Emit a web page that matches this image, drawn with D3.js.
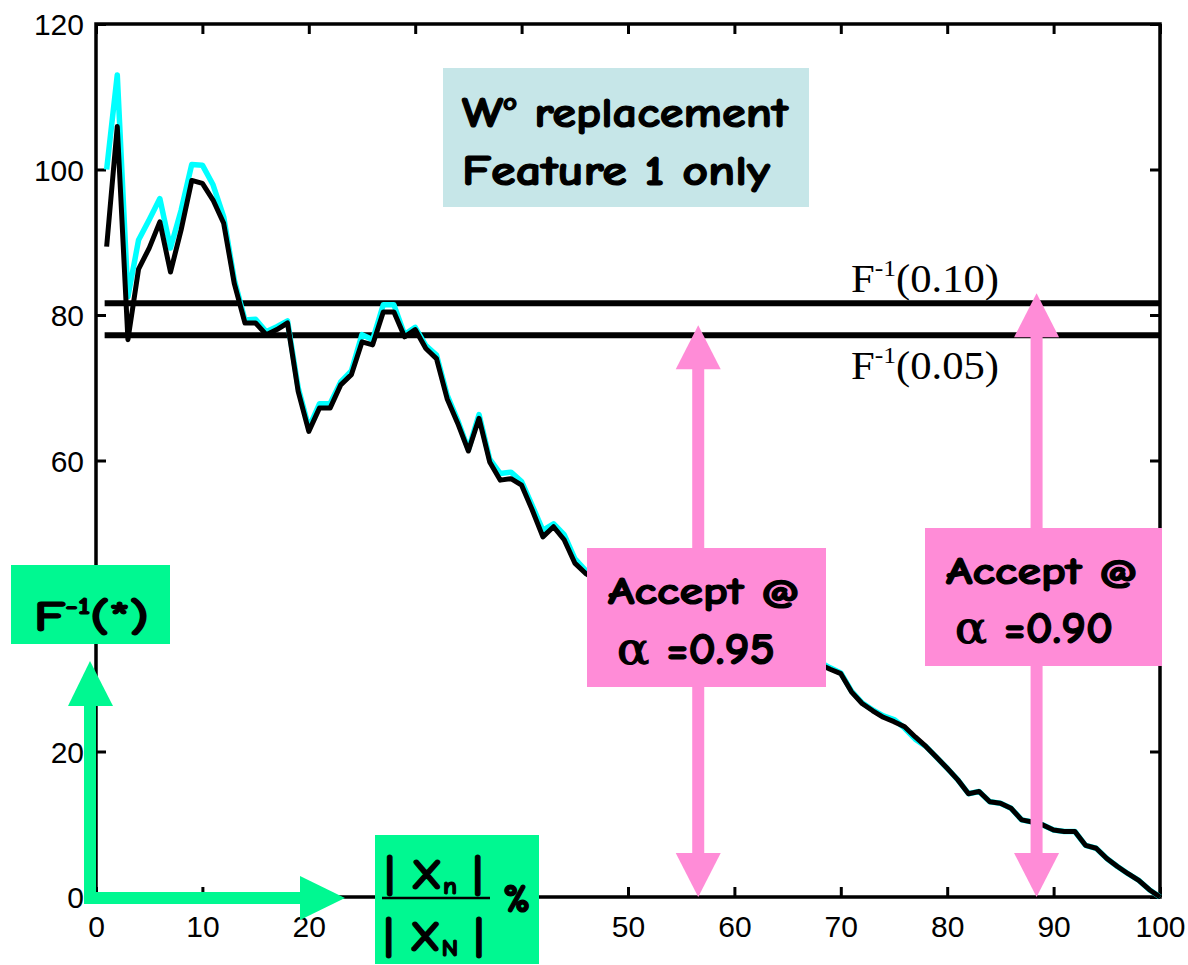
<!DOCTYPE html>
<html>
<head>
<meta charset="utf-8">
<script src="https://cdn.jsdelivr.net/npm/d3@7"></script>
<style>
  body { margin: 0; background: #fff; }
  .tick text { font-family: "Liberation Sans", Arial, Helvetica, sans-serif; font-size: 30px; fill: #000; }
  .comic { font-family: "Comic Sans MS", "Comic Neue", "DejaVu Sans", sans-serif; font-weight: bold; stroke: #000; stroke-width: 1.2px; }
  .serif { font-family: "Liberation Serif", "Times New Roman", serif; }
</style>
</head>
<body>
<figure id="chart" style="margin:0"></figure>
<script>
// percentage of the sample kept, |Xn| / |XN| %
const pct = [1,2,3,4,5,6,7,8,9,10,11,12,13,14,15,16,17,18,19,20,
  21,22,23,24,25,26,27,28,29,30,31,32,33,34,35,36,37,38,39,40,
  41,42,43,44,45,46,47,48,49,50,51,52,53,54,55,56,57,58,59,60,
  61,62,63,64,65,66,67,68,69,70,71,72,73,74,75,76,77,78,79,80,
  81,82,83,84,85,86,87,88,89,90,91,92,93,94,95,96,97,98,99,100];

// cyan series (drawn underneath)
const cyanVals = [100.0,113.0,82.5,90.3,93.1,96.0,89.2,94.4,100.7,100.6,
  97.9,93.5,84.8,79.3,79.4,77.7,78.4,79.2,70.0,64.5,
  67.8,67.8,70.8,72.3,77.3,76.6,81.4,81.4,77.3,78.3,
  75.8,74.5,69.0,65.5,61.5,66.3,60.2,58.2,58.4,57.1,
  53.8,50.4,51.3,49.8,46.5,44.9,44.0,43.4,42.5,41.9,
  41.2,40.9,40.1,39.4,39.0,38.4,37.9,37.5,37.0,36.4,
  35.9,35.5,35.0,34.4,34.1,33.6,33.0,32.3,31.5,30.8,
  28.3,26.7,25.7,24.9,24.4,23.2,21.7,20.7,19.2,17.7,
  16.1,14.2,14.5,13.1,12.9,12.2,10.6,10.3,9.9,9.2,
  9.0,9.0,7.1,6.7,5.3,4.2,3.2,2.3,1.0,0.0];

// black series
const blackVals = [89.4,105.9,76.6,86.3,89.2,92.8,85.9,91.7,98.5,98.1,
  95.8,92.6,84.3,78.9,78.9,77.3,78.0,78.9,69.5,64.0,
  67.2,67.2,70.4,71.8,76.3,75.9,80.4,80.4,77.0,78.0,
  75.4,74.0,68.5,65.1,61.3,65.8,59.8,57.3,57.5,56.6,
  53.2,49.5,50.9,49.1,45.9,44.5,43.6,43.0,42.1,41.5,
  40.8,40.5,39.7,39.0,38.6,38.0,37.5,37.1,36.6,36.0,
  35.5,35.1,34.6,34.0,33.7,33.2,32.6,32.0,31.3,30.7,
  28.2,26.6,25.6,24.7,24.1,23.4,22.0,20.7,19.2,17.7,
  16.1,14.2,14.5,13.1,12.9,12.2,10.6,10.3,9.9,9.2,
  9.0,9.0,7.1,6.7,5.3,4.2,3.2,2.3,1.0,0.0];

const xTicks = [0,10,20,30,40,50,60,70,80,90,100];
const yTicks = [0,20,40,60,80,100,120];
// tick labels that sit under the green annotation boxes
const xHidden = [30, 40];
const yHidden = [40];

// critical values F^-1(p)
const critProbs = ["0.10", "0.05"];
const critVals = [81.6, 77.2];

// acceptance arrows
const acceptAlpha = ["0.95", "0.90"];
const acceptX = [56.6, 88.4];
const acceptTop = [78.6, 83.0];

const W = 1188, H = 965;
const margin = {top: 24, right: 28, bottom: 68, left: 96};
const width = W - margin.left - margin.right;
const height = H - margin.top - margin.bottom;

const green = "#00f891";
const pink = "#ff8cd7";

const svg = d3.select("figure#chart")
  .append("svg")
  .attr("width", W)
  .attr("height", H);

const g = svg.append("g")
  .attr("transform", "translate(" + margin.left + "," + margin.top + ")");

const x = d3.scaleLinear().domain([0, 100]).range([0, width]);
const y = d3.scaleLinear().domain([0, 120]).range([height, 0]);

// axes on all four sides, ticks pointing inward
const axisStyle = sel => {
  sel.select(".domain").remove();
  sel.selectAll(".tick line").attr("stroke", "#000").attr("stroke-width", 3);
};
g.append("g")
  .attr("transform", "translate(0," + height + ")")
  .call(d3.axisBottom(x).tickValues(xTicks).tickSize(-10).tickPadding(13)
    .tickFormat(d => xHidden.includes(d) ? "" : d))
  .call(axisStyle)
  .selectAll("text").attr("dy", "0.9em");
g.append("g")
  .call(d3.axisTop(x).tickValues(xTicks).tickSize(-10).tickFormat(""))
  .call(axisStyle);
g.append("g")
  .call(d3.axisLeft(y).tickValues(yTicks).tickSize(-10).tickPadding(12)
    .tickFormat(d => yHidden.includes(d) ? "" : d))
  .call(axisStyle)
  .selectAll("text").attr("dy", "0.36em");
g.append("g")
  .attr("transform", "translate(" + width + ",0)")
  .call(d3.axisRight(y).tickValues(yTicks).tickSize(-10).tickFormat(""))
  .call(axisStyle);

g.append("rect")
  .attr("width", width).attr("height", height)
  .attr("fill", "none").attr("stroke", "#000").attr("stroke-width", 3.5);

// critical value lines
g.selectAll(".crit")
  .data(critVals)
  .enter()
  .append("line")
    .attr("x1", x(pct[0]) - 2).attr("x2", width)
    .attr("y1", d => y(d)).attr("y2", d => y(d))
    .attr("stroke", "#000").attr("stroke-width", 6);

// series
const line = d3.line()
  .x((d, i) => x(pct[i]))
  .y(d => y(d));
g.append("path").datum(cyanVals)
  .attr("d", line).attr("fill", "none")
  .attr("stroke", "#00ffff").attr("stroke-width", 5.5).attr("stroke-linejoin", "round");
g.append("path").datum(blackVals)
  .attr("d", line).attr("fill", "none")
  .attr("stroke", "#000").attr("stroke-width", 5).attr("stroke-linejoin", "round");

// critical labels
const critLabelY = [y(critVals[0]) - 11, y(critVals[1]) + 44];
critProbs.forEach((p, i) => {
  const t = g.append("text").attr("class", "serif")
    .attr("x", 851 - margin.left).attr("y", critLabelY[i])
    .attr("font-size", 40).attr("fill", "#000")
    .attr("textLength", 148).attr("lengthAdjust", "spacingAndGlyphs");
  t.append("tspan").text("F");
  t.append("tspan").attr("font-size", 24).attr("dy", -16).text("-1");
  t.append("tspan").attr("dy", 16).text("(" + p + ")");
});

// pink double arrows
const head = 45, headLen = 44, shaft = 12;
acceptX.forEach((ax, i) => {
  const cx = x(ax), top = y(acceptTop[i]), bot = y(0);
  g.append("rect")
    .attr("x", cx - shaft / 2).attr("y", top + headLen - 1)
    .attr("width", shaft).attr("height", bot - top - 2 * headLen + 2)
    .attr("fill", pink);
  g.append("path")
    .attr("d", "M" + cx + "," + top + "L" + (cx - head / 2) + "," + (top + headLen) +
      "L" + (cx + head / 2) + "," + (top + headLen) + "Z")
    .attr("fill", pink);
  g.append("path")
    .attr("d", "M" + cx + "," + bot + "L" + (cx - head / 2) + "," + (bot - headLen) +
      "L" + (cx + head / 2) + "," + (bot - headLen) + "Z")
    .attr("fill", pink);
});

// pink label boxes
const boxes = [
  {x: 587, y: 548, w: 239, h: 139, t1x: 608, t1y: 604, t2x: 617, t2y: 664},
  {x: 925, y: 528, w: 237, h: 138, t1x: 946, t1y: 584, t2x: 955, t2y: 643}
];
boxes.forEach((b, i) => {
  svg.append("rect").attr("x", b.x).attr("y", b.y).attr("width", b.w).attr("height", b.h)
    .attr("fill", pink);
  svg.append("text").attr("class", "comic")
    .attr("x", b.t1x).attr("y", b.t1y).attr("font-size", 39)
    .attr("textLength", 193).attr("lengthAdjust", "spacingAndGlyphs")
    .text("Accept @");
  const t = svg.append("text").attr("class", "comic")
    .attr("x", b.t2x).attr("y", b.t2y).attr("font-size", 44)
    .attr("textLength", 158).attr("lengthAdjust", "spacingAndGlyphs");
  t.append("tspan").attr("font-weight", "normal").attr("font-family", "DejaVu Serif, serif").text("\u03b1");
  t.append("tspan").text(" =" + acceptAlpha[i]);
});

// title box
svg.append("rect").attr("x", 443).attr("y", 68).attr("width", 366).attr("height", 139)
  .attr("fill", "#c6e6e8");
const t1 = svg.append("text").attr("class", "comic")
  .attr("x", 462).attr("y", 127).attr("font-size", 43)
  .attr("textLength", 326).attr("lengthAdjust", "spacingAndGlyphs");
t1.append("tspan").text("W");
t1.append("tspan").attr("font-size", 24).attr("dy", -17).text("o");
t1.append("tspan").attr("dy", 17).text(" replacement");
svg.append("text").attr("class", "comic")
  .attr("x", 462).attr("y", 185).attr("font-size", 43)
  .attr("textLength", 308).attr("lengthAdjust", "spacingAndGlyphs")
  .text("Feature 1 only");

// green axis annotations
svg.append("rect").attr("x", 84).attr("y", 700).attr("width", 12).attr("height", 204).attr("fill", green);
svg.append("path").attr("d", "M90,661L68,706L113,706Z").attr("fill", green);
svg.append("rect").attr("x", 84).attr("y", 892).attr("width", 220).attr("height", 12).attr("fill", green);
svg.append("path").attr("d", "M345,898L300,876L300,920Z").attr("fill", green);

svg.append("rect").attr("x", 11).attr("y", 565).attr("width", 159).attr("height", 79).attr("fill", green);
const fy = svg.append("text").attr("class", "comic")
  .attr("x", 34).attr("y", 631).attr("font-size", 42)
  .attr("textLength", 115).attr("lengthAdjust", "spacingAndGlyphs");
fy.append("tspan").text("F");
fy.append("tspan").attr("font-size", 24).attr("dy", -17).text("-1");
fy.append("tspan").attr("dy", 17).text("(*)");

svg.append("rect").attr("x", 375).attr("y", 835).attr("width", 164).attr("height", 129).attr("fill", green);
svg.append("line").attr("x1", 382).attr("x2", 490).attr("y1", 898).attr("y2", 898)
  .attr("stroke", "#000").attr("stroke-width", 2.5);
const num = svg.append("text").attr("class", "comic")
  .attr("x", 385).attr("y", 889).attr("font-size", 42)
  .attr("textLength", 98).attr("lengthAdjust", "spacingAndGlyphs");
num.append("tspan").text("| X");
num.append("tspan").attr("font-size", 24).attr("dy", 5).text("n");
num.append("tspan").attr("dy", -5).text(" |");
const den = svg.append("text").attr("class", "comic")
  .attr("x", 384).attr("y", 951).attr("font-size", 42)
  .attr("textLength", 100).attr("lengthAdjust", "spacingAndGlyphs");
den.append("tspan").text("| X");
den.append("tspan").attr("font-size", 24).attr("dy", 5).text("N");
den.append("tspan").attr("dy", -5).text(" |");
svg.append("text").attr("class", "comic")
  .attr("x", 503).attr("y", 912).attr("font-size", 40).text("%");
</script>
</body>
</html>
